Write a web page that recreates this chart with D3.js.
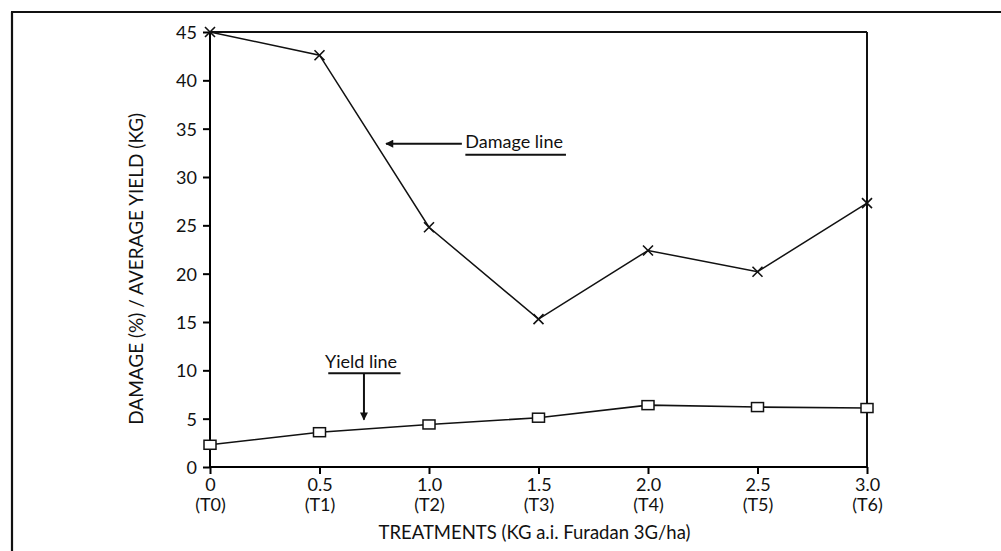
<!DOCTYPE html>
<html>
<head>
<meta charset="utf-8">
<script src="https://d3js.org/d3.v7.min.js"></script>
<style>
  body { margin: 0; background: #fff; }
  svg text { font-family: Lato, "Open Sans", sans-serif; fill: #111; }
</style>
</head>
<body>
<svg id="chart" width="1001" height="551"></svg>
<script>
// values
var doses = [0, 0.5, 1.0, 1.5, 2.0, 2.5, 3.0];
var doseLabels = ["0", "0.5", "1.0", "1.5", "2.0", "2.5", "3.0"];
var treatLabels = ["(T0)", "(T1)", "(T2)", "(T3)", "(T4)", "(T5)", "(T6)"];
var damage = [45, 42.6, 24.8, 15.3, 22.4, 20.2, 27.3];
var yieldKg = [2.3, 3.6, 4.4, 5.1, 6.4, 6.2, 6.1];
var yTicks = [0, 5, 10, 15, 20, 25, 30, 35, 40, 45];

var svg = d3.select("#chart");
var margin = {top: 32, right: 134, bottom: 84, left: 210};
var W = 1001, H = 551;
var width = W - margin.left - margin.right;
var height = H - margin.top - margin.bottom;

// outer page frame (left and top edges only are visible)
svg.append("line").attr("x1", 12).attr("y1", 12).attr("x2", 12).attr("y2", H)
  .attr("stroke", "#111").attr("stroke-width", 2.2);
svg.append("line").attr("x1", 11).attr("y1", 12).attr("x2", W).attr("y2", 12)
  .attr("stroke", "#111").attr("stroke-width", 2);

var g = svg.append("g").attr("transform", "translate(" + margin.left + "," + margin.top + ")");

var x = d3.scaleLinear().domain([0, 3]).range([0, width]);
var y = d3.scaleLinear().domain([0, 45]).range([height, 0]);

// plot box: top + right
g.append("line").attr("x1", 0).attr("x2", width).attr("y1", 0).attr("y2", 0)
  .attr("stroke", "#111").attr("stroke-width", 2);
g.append("line").attr("x1", width).attr("x2", width).attr("y1", 0).attr("y2", height)
  .attr("stroke", "#111").attr("stroke-width", 2);

// y axis
var yAxis = d3.axisLeft(y).tickValues(yTicks).tickSize(7).tickPadding(6).tickFormat(d3.format("d"));
var yG = g.append("g").call(yAxis);
yG.select(".domain").attr("stroke-width", 2).attr("d", "M0," + height + "V0");
yG.selectAll(".tick line").attr("stroke-width", 2);
yG.selectAll(".tick text").style("font-size", "18px").attr("dy", "0.36em");

// x axis
var xAxis = d3.axisBottom(x).tickValues(doses).tickSize(7).tickPadding(4)
  .tickFormat(function(d, i) { return doseLabels[i]; });
var xG = g.append("g").attr("transform", "translate(0," + height + ")").call(xAxis);
xG.select(".domain").attr("stroke-width", 2).attr("d", "M0,0H" + width);
xG.selectAll(".tick line").attr("stroke-width", 2);
xG.selectAll(".tick text").style("font-size", "18px");
xG.selectAll(".tick").append("text")
  .attr("y", 31).attr("dy", "0.71em")
  .attr("text-anchor", "middle")
  .style("font-size", "18px")
  .attr("fill", "#111")
  .text(function(d, i) { return treatLabels[i]; });

// axis titles
g.append("text")
  .attr("transform", "translate(" + (-67) + "," + (y(20.5)) + ") rotate(-90)")
  .attr("text-anchor", "middle")
  .style("font-size", "19px")
  .text("DAMAGE (%) / AVERAGE YIELD (KG)");

g.append("text")
  .attr("x", width / 2 - 4)
  .attr("y", height + 72)
  .attr("text-anchor", "middle")
  .style("font-size", "18.5px")
  .text("TREATMENTS (KG a.i. Furadan 3G/ha)");

// lines
var line = d3.line().x(function(d) { return x(d[0]); }).y(function(d) { return y(d[1]); });
var damagePts = doses.map(function(d, i) { return [d, damage[i]]; });
var yieldPts = doses.map(function(d, i) { return [d, yieldKg[i]]; });

g.append("path").datum(damagePts).attr("d", line)
  .attr("fill", "none").attr("stroke", "#111").attr("stroke-width", 1.5);
g.append("path").datum(yieldPts).attr("d", line)
  .attr("fill", "none").attr("stroke", "#111").attr("stroke-width", 1.6);

// damage markers: crosses
var s = 5;
g.selectAll(".dmg").data(damagePts).enter().append("path")
  .attr("class", "dmg")
  .attr("transform", function(d) { return "translate(" + x(d[0]) + "," + y(d[1]) + ")"; })
  .attr("d", "M" + (-s) + "," + (-s) + "L" + s + "," + s + "M" + s + "," + (-s) + "L" + (-s) + "," + s)
  .attr("stroke", "#111").attr("stroke-width", 1.6).attr("fill", "none");

// yield markers: open squares
g.selectAll(".yld").data(yieldPts).enter().append("rect")
  .attr("class", "yld")
  .attr("x", function(d) { return x(d[0]) - 6; })
  .attr("y", function(d) { return y(d[1]) - 4.5; })
  .attr("width", 12).attr("height", 9)
  .attr("fill", "#fff").attr("stroke", "#111").attr("stroke-width", 1.5);

// annotations
var defs = svg.append("defs");
defs.append("marker").attr("id", "head")
  .attr("viewBox", "0 0 10 10").attr("refX", 9).attr("refY", 5)
  .attr("markerWidth", 10).attr("markerHeight", 8).attr("markerUnits", "userSpaceOnUse")
  .attr("orient", "auto")
  .append("path").attr("d", "M0,0L10,5L0,10Z").attr("fill", "#111");

// "Damage line" label with arrow
g.append("line")
  .attr("x1", x(1.15)).attr("y1", y(33.45))
  .attr("x2", x(0.804)).attr("y2", y(33.45))
  .attr("stroke", "#111").attr("stroke-width", 2).attr("marker-end", "url(#head)");
var dmgText = g.append("text")
  .attr("x", x(1.166)).attr("y", y(32.95))
  .style("font-size", "18px")
  .text("Damage line");
var db = dmgText.node().getBBox();
g.append("line")
  .attr("x1", db.x).attr("x2", db.x + db.width + 3)
  .attr("y1", y(32.3)).attr("y2", y(32.3))
  .attr("stroke", "#111").attr("stroke-width", 2);

// "Yield line" label with arrow
var yldText = g.append("text")
  .attr("x", x(0.525)).attr("y", y(10.2))
  .style("font-size", "18px")
  .text("Yield line");
g.append("line")
  .attr("x1", x(0.54)).attr("x2", x(0.87))
  .attr("y1", y(9.7)).attr("y2", y(9.7))
  .attr("stroke", "#111").attr("stroke-width", 2);
g.append("line")
  .attr("x1", x(0.703)).attr("x2", x(0.703))
  .attr("y1", y(9.7)).attr("y2", y(4.9))
  .attr("stroke", "#111").attr("stroke-width", 2).attr("marker-end", "url(#head)");
</script>
</body>
</html>
